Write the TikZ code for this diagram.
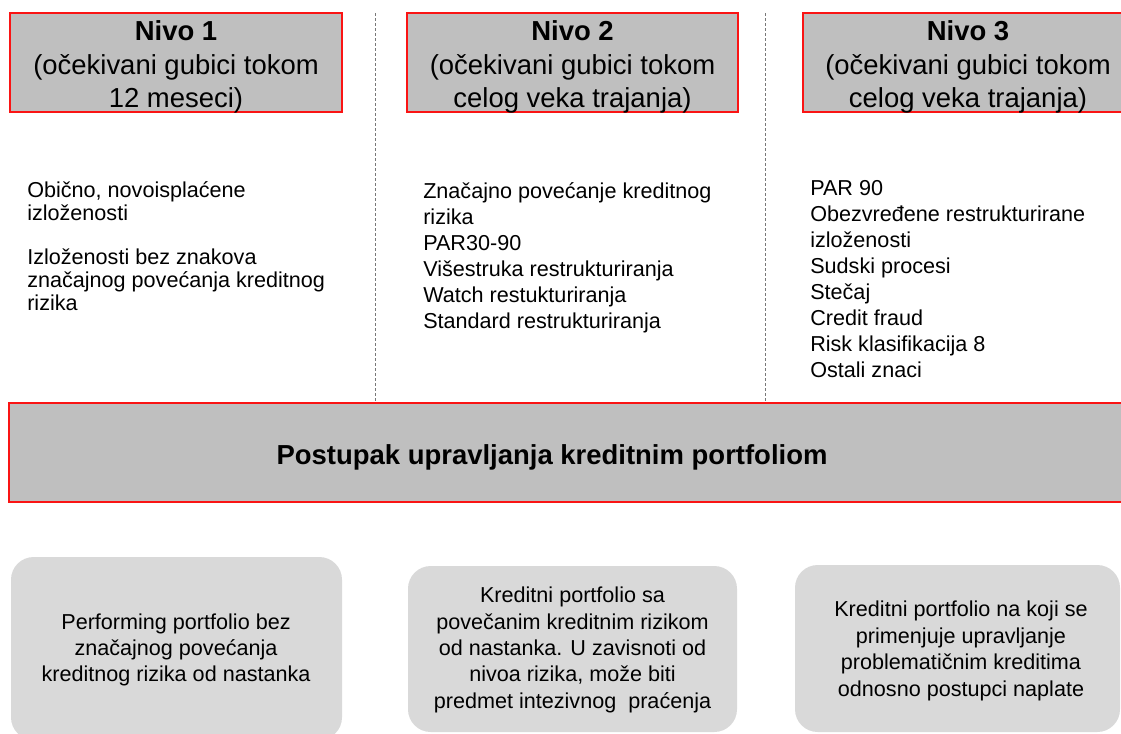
\documentclass[tikz,border=0pt]{standalone}
\usepackage{fontspec}
\setmainfont{Liberation Sans}
\definecolor{hdrgray}{RGB}{191,191,191}
\definecolor{boxgray}{RGB}{217,217,217}
\definecolor{redline}{RGB}{250,20,20}
\definecolor{sepgray}{RGB}{120,120,120}
\begin{document}
\begin{tikzpicture}[x=0.75pt,y=-0.75pt,
  hdrbox/.style={draw=redline, line width=1.2pt, fill=hdrgray, inner sep=0pt, minimum height=74.25pt},
  roundbox/.style={fill=boxgray, rounded corners=17pt, inner sep=0pt},
  hdrtext/.style={anchor=north, inner sep=0pt, align=center, font=\fontsize{20.6}{25.1}\selectfont},
  coltext/.style={anchor=north west, inner sep=0pt, align=left, font=\fontsize{16.2}{19.4}\selectfont},
  boxtext/.style={inner sep=0pt, align=center, font=\fontsize{16.2}{19.8}\selectfont},
  septline/.style={draw=sepgray, line width=0.75pt, dash pattern=on 2.25pt off 1.5pt}]
\path[use as bounding box, clip] (0,0) rectangle (1121,733);

% header boxes
\node[hdrbox, minimum width=249pt] (h1) at (176,62.5) {};
\node[hdrbox, minimum width=248.25pt] (h2) at (572.5,62.5) {};
\node[hdrbox, minimum width=247.5pt] (h3) at (968,62.5) {};

\node[hdrtext] (h1t) at (176,20.5) {\textbf{Nivo 1}\\(očekivani gubici tokom\\12 meseci)};
\node[hdrtext] (h2t) at (572.5,20.5) {\textbf{Nivo 2}\\(očekivani gubici tokom\\celog veka trajanja)};
\node[hdrtext] (h3t) at (968,20.5) {\textbf{Nivo 3}\\(očekivani gubici tokom\\celog veka trajanja)};

% separators
\coordinate (s1t) at (375,13);
\coordinate (s1b) at (375,403);
\coordinate (s2t) at (765,13);
\coordinate (s2b) at (765,403);
\draw[septline] (s1t) -- (s1b);
\draw[septline] (s2t) -- (s2b);

% column texts
\node[coltext, font=\fontsize{16.2}{17.25}\selectfont] (c1) at (27,181)
  {Obično, novoisplaćene\\izloženosti\\[15.75pt]Izloženosti bez znakova\\značajnog povećanja kreditnog\\rizika};
\node[coltext] (c2) at (423,182.5)
  {Značajno povećanje kreditnog\\rizika\\PAR30-90\\Višestruka restrukturiranja\\Watch restukturiranja\\Standard restrukturiranja};
\node[coltext, font=\fontsize{16.2}{19.5}\selectfont] (c3) at (810,180)
  {PAR 90\\Obezvređene restrukturirane\\izloženosti\\Sudski procesi\\Stečaj\\Credit fraud\\Risk klasifikacija 8\\Ostali znaci};

% bar
\node[hdrbox, minimum width=844.5pt] (bar) at (572,452.5) {};
\node[anchor=base, inner sep=0pt, font=\fontsize{20.6}{25}\selectfont\bfseries] (bart) at (552,464)
  {Postupak upravljanja kreditnim portfoliom};

% bottom boxes
\node[roundbox, minimum width=248.25pt, minimum height=137.25pt] (b1) at (176.5,648.5) {};
\node[roundbox, minimum width=246.75pt, minimum height=124.5pt] (b2) at (572.5,649) {};
\node[roundbox, minimum width=243.75pt, minimum height=125.25pt] (b3) at (957.5,648.5) {};

\node[boxtext] (b1t) at (176,650) {Performing portfolio bez\\značajnog povećanja\\kreditnog rizika od nastanka};
\node[boxtext] (b2t) at (572.5,650) {Kreditni portfolio sa\\povečanim kreditnim rizikom\\od nastanka. U zavisnoti od\\nivoa rizika, može biti\\predmet intezivnog\ \ praćenja};
\node[boxtext] (b3t) at (961,651) {Kreditni portfolio na koji se\\primenjuje upravljanje\\problematičnim kreditima\\odnosno postupci naplate};
\end{tikzpicture}
\end{document}
